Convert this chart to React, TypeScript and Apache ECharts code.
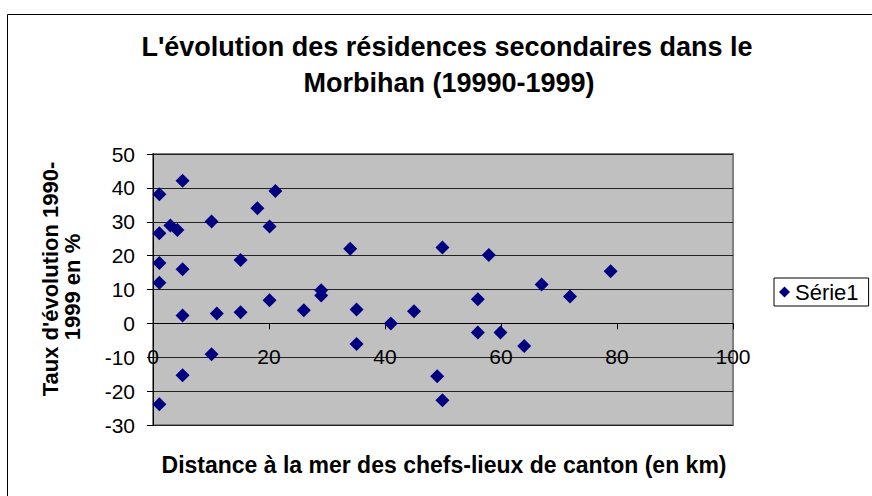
import React, { useEffect, useRef } from "react";
import * as echarts from "echarts";

const distanceKm = [1.1, 1.1, 1.1, 1.1, 1.1, 3.0, 4.2, 5.1, 5.1, 5.1, 5.1, 10.1, 10.1, 11.0, 15.1, 15.1, 18.0, 20.1, 20.1, 21.1, 26.0, 29.0, 29.0, 34.0, 35.1, 35.1, 41.0, 45.0, 49.0, 49.9, 49.9, 56.0, 56.0, 57.9, 59.9, 64.0, 67.0, 71.9, 78.9];
const evolutionPct = [38.1, 26.6, 17.8, 12.0, -23.9, 28.9, 27.6, 42.1, 16.0, 2.3, -15.3, 30.1, -9.1, 2.9, 18.7, 3.3, 34.0, 28.6, 6.8, 39.1, 3.9, 9.8, 8.2, 22.0, 4.1, -6.1, 0.0, 3.6, -15.6, 22.4, -22.7, 7.1, -2.7, 20.2, -2.7, -6.7, 11.5, 7.9, 15.4];
const seriesName = "Série1";
const titleLines = ["L'évolution des résidences secondaires dans le", "Morbihan (19990-1999)"];
const yTitleLines = ["Taux d'évolution 1990-", "1999 en %"];
const xTitle = "Distance à la mer des chefs-lieux de canton (en km)";
const xMin = 0, xMax = 100, xStep = 20;
const yMin = -30, yMax = 50, yStep = 10;

const FONT = "'Liberation Sans', Arial, sans-serif";

const GRID_TOP = 154;
const GRID_BOTTOM = 71;
const CHART_H = 496;

export default function App() {
  const ref = useRef<HTMLDivElement>(null);
  useEffect(() => {
    if (!ref.current) return;
    const chart = echarts.init(ref.current, null, { renderer: "svg" });
    const points = distanceKm.map((x, i) => [x, evolutionPct[i]]);
    const gridH = CHART_H - GRID_TOP - GRID_BOTTOM;
    // x axis crosses the value axis at 0, as in the original spreadsheet chart
    const xAxisOffset = -((0 - yMin) / (yMax - yMin)) * gridH;
    chart.setOption({
      animation: false,
      backgroundColor: "#ffffff",
      textStyle: { fontFamily: FONT },
      grid: { left: 153, top: GRID_TOP, right: 139, bottom: GRID_BOTTOM, show: true, backgroundColor: "#c0c0c0", borderColor: "#808080", borderWidth: 2 },
      legend: {
        orient: "vertical",
        left: 774,
        top: 278,
        padding: [3, 10, 3, 5],
        borderColor: "#000",
        borderWidth: 1,
        itemWidth: 11,
        itemHeight: 11,
        itemGap: 0,
        textStyle: { fontFamily: FONT, fontSize: 22, color: "#000" },
        data: [{ name: seriesName, icon: "diamond", itemStyle: { color: "#000080", opacity: 1 } }],
      },
      xAxis: {
        type: "value",
        min: xMin,
        max: xMax,
        interval: xStep,
        offset: xAxisOffset,
        axisLine: { onZero: false, lineStyle: { color: "#000", width: 1 } },
        axisTick: { show: true, inside: false, length: 6, lineStyle: { color: "#000" } },
        axisLabel: { fontFamily: FONT, fontSize: 21, color: "#000", margin: 23 },
        splitLine: { show: false },
      },
      yAxis: {
        type: "value",
        min: yMin,
        max: yMax,
        interval: yStep,
        axisLine: { show: true, onZero: false, lineStyle: { color: "#000", width: 1 } },
        axisTick: { show: true, inside: false, length: 6, lineStyle: { color: "#000" } },
        axisLabel: { fontFamily: FONT, fontSize: 21, color: "#000", margin: 18 },
        splitLine: { show: true, lineStyle: { color: "#222", width: 1 } },
      },
      graphic: [
        { type: "rect", shape: { x: 7.5, y: 14.5, width: 900, height: 600 }, style: { fill: "none", stroke: "#000", lineWidth: 1 }, z: -1 },
        { type: "text", x: 447, y: 47, style: { text: titleLines[0], font: `bold 27px ${FONT}`, fill: "#000", align: "center", verticalAlign: "middle" } },
        { type: "text", x: 449, y: 83, style: { text: titleLines[1], font: `bold 27px ${FONT}`, fill: "#000", align: "center", verticalAlign: "middle" } },
        { type: "text", x: 50, y: 279, rotation: Math.PI / 2, style: { text: yTitleLines[0], font: `bold 22px ${FONT}`, fill: "#000", align: "center", verticalAlign: "middle" } },
        { type: "text", x: 72, y: 287, rotation: Math.PI / 2, style: { text: yTitleLines[1], font: `bold 22px ${FONT}`, fill: "#000", align: "center", verticalAlign: "middle" } },
        { type: "text", x: 444, y: 465, style: { text: xTitle, font: `bold 23px ${FONT}`, fill: "#000", align: "center", verticalAlign: "middle" } },
      ],
      series: [
        {
          name: seriesName,
          type: "scatter",
          symbol: "diamond",
          symbolSize: 14,
          itemStyle: { color: "#000080", opacity: 1 },
          data: points,
        },
      ],
    });
    return () => chart.dispose();
  }, []);
  return <div ref={ref} style={{ position: "fixed", left: 0, top: 0, width: 872, height: 496 }} />;
}
